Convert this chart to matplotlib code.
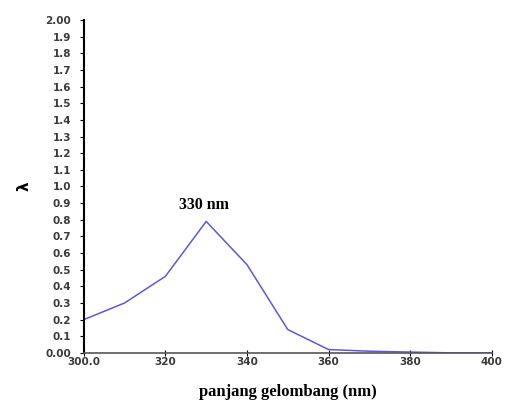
import matplotlib
matplotlib.use('Agg')
import matplotlib.pyplot as plt

# spektrum absorbansi
wavelength = [300, 310, 320, 330, 340, 350, 360, 370, 380, 390, 400]
absorbance = [0.20, 0.30, 0.46, 0.79, 0.53, 0.14, 0.02, 0.01, 0.005, 0.0, 0.0]

x_ticks = [300, 320, 340, 360, 380, 400]
x_labels = ['300.0', '320', '340', '360', '380', '400']
y_ticks = [i / 10 for i in range(21)]
y_labels = ['0.00'] + ['%.1f' % (i / 10) for i in range(1, 20)] + ['2.00']

fig = plt.figure(figsize=(5.08, 4.01), dpi=100)
ax = fig.add_axes([0.165, 0.12, 0.803, 0.83])

ax.plot(wavelength, absorbance, color='#5a5ad8', linewidth=1.1)
ax.annotate('330 nm', xy=(329.5, 0.89), ha='center', va='center',
            fontsize=11.5, fontweight='bold', family='Liberation Serif')

ax.set_xlim(300, 400)
ax.set_ylim(0, 2.0)
ax.set_xticks(x_ticks)
ax.set_xticklabels(x_labels)
ax.set_yticks(y_ticks)
ax.set_yticklabels(y_labels)

for lab in ax.get_xticklabels() + ax.get_yticklabels():
    lab.set_fontweight('heavy')
    lab.set_fontsize(7.5)
    lab.set_color('#3a3a3a')

ax.tick_params(axis='y', direction='out', length=3, width=0.8, pad=6)
ax.tick_params(axis='x', direction='inout', length=4, width=0.8, pad=1)

ax.spines['top'].set_visible(False)
ax.spines['right'].set_visible(False)
ax.spines['left'].set_linewidth(1.5)
ax.spines['bottom'].set_linewidth(1.2)
ax.spines['bottom'].set_color('#555555')

ax.set_xlabel('panjang gelombang (nm)', fontsize=12, fontweight='bold',
              family='Liberation Serif', labelpad=12)
ax.set_ylabel('λ', fontsize=11, fontweight='bold', labelpad=10)

fig.savefig('out.png', dpi=100)
